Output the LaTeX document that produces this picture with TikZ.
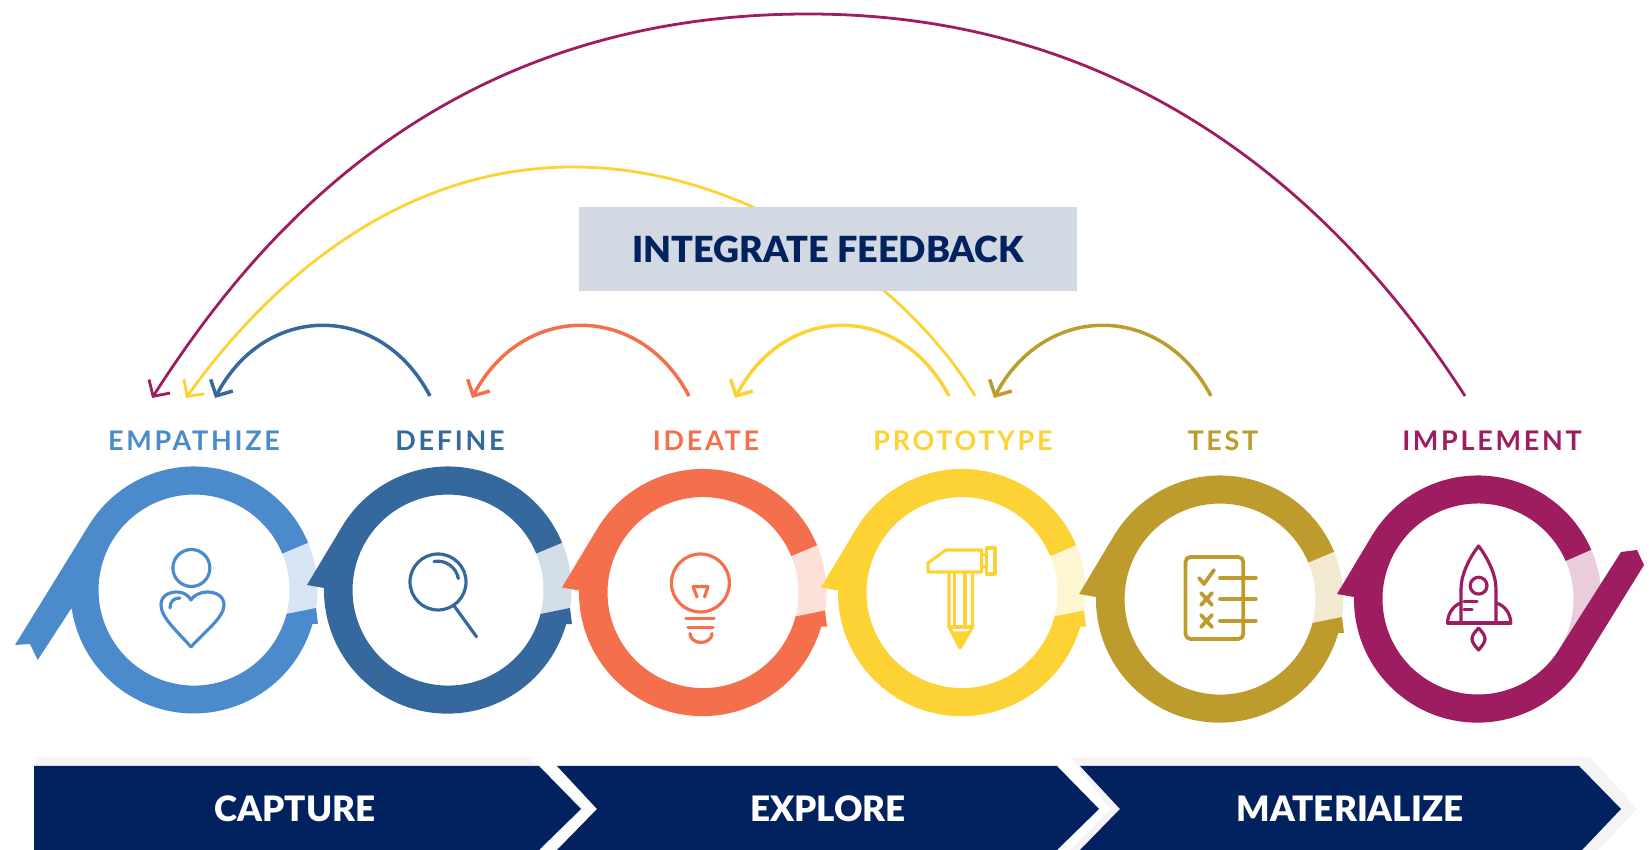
\documentclass[tikz,border=0pt]{standalone}
\usepackage{fontspec}
\setmainfont{Lato}
\newfontfamily\stagefont[LetterSpace=10]{Lato}
\newfontfamily\heavyfont{Lato Black}
\usetikzlibrary{arrows.meta,positioning}

\definecolor{empcol}{HTML}{4C8BCB}
\definecolor{defcol}{HTML}{35689D}
\definecolor{idecol}{HTML}{F4704C}
\definecolor{procol}{HTML}{FDD235}
\definecolor{tescol}{HTML}{BE9B2D}
\definecolor{impcol}{HTML}{9E1C60}
\definecolor{navy}{HTML}{02215F}
\definecolor{boxgray}{HTML}{D3D9E3}
\definecolor{shadecol}{HTML}{F6F3F6}

\tikzset{
  feedback/.style={->, >={Straight Barb[length=12pt,width=25pt]}, line width=2.8pt},
  shortback/.style={feedback, line width=3.5pt},
  stage/.style={font=\stagefont\bfseries\fontsize{27}{27}\selectfont},
  phase/.style={font=\heavyfont\fontsize{35}{35}\selectfont, text=white},
  icon/.style={line width=3.2pt, line cap=round, line join=round}
}

\begin{document}
\begin{tikzpicture}[x=1pt, y=1pt]
  \useasboundingbox (0,0) rectangle (1649,850);

  % Arrow ends
  \coordinate (impout) at (1465,454);
  \coordinate (top) at (808,836);
  \coordinate (empin1) at (152,452);
  \coordinate (proout2) at (975,454);
  \coordinate (mid) at (573,683);
  \coordinate (empin2) at (186,452);
  \coordinate (defout) at (430,454);
  \coordinate (empin3) at (215,452);
  \coordinate (ideout) at (689,454);
  \coordinate (defin) at (472,452);
  \coordinate (proout1) at (949,454);
  \coordinate (idein) at (735,452);
  \coordinate (tesout) at (1211,454);
  \coordinate (proin) at (994,452);

  % Feedback arcs
  \draw[feedback, impcol] (impout) .. controls (1369,603) and (1170,836) .. (top)
    .. controls (432,836) and (248,601) .. (empin1);
  \draw[feedback, procol] (proout2) .. controls (915,556) and (756,683) .. (mid)
    .. controls (396,683) and (266,564) .. (empin2);
  \draw[shortback, defcol] (defout) .. controls +(-50,95) and +(50,95) .. (empin3);
  \draw[shortback, idecol] (ideout) .. controls +(-50,95) and +(50,95) .. (defin);
  \draw[shortback, procol] (proout1) .. controls +(-50,95) and +(50,95) .. (idein);
  \draw[shortback, tescol] (tesout) .. controls +(-50,95) and +(50,95) .. (proin);

  \node[fill=boxgray, text=navy, minimum width=498pt, minimum height=84pt,
    font=\heavyfont\fontsize{36}{36}\selectfont] (integrate) at (828,601) {INTEGRATE FEEDBACK};

  % Stages
  \node[stage, text=empcol] (empathize) at (194,409) {EMPATHIZE};
  \node[stage, text=defcol] (define) at (450,409) {DEFINE};
  \node[stage, text=idecol] (ideate) at (706,409) {IDEATE};
  \node[stage, text=procol] (prototype) at (963,409) {PROTOTYPE};
  \node[stage, text=tescol] (test) at (1223,409) {TEST};
  \node[stage, text=impcol] (implement) at (1492,409) {IMPLEMENT};

  % Ring 1
  \begin{scope}[shift={(194,260)}]
    \fill[empcol!22] (-15:95.5) arc[start angle=-15,end angle=24,radius=95.5]
      -- (24:123.5) arc[start angle=24,end angle=-15,radius=123.5] -- cycle;
    \fill[empcol] (22.5:123.5) arc[start angle=22.5,end angle=148,radius=123.5]
      -- (-179,-55) -- (-164,-54) -- (-156.3,-70) -- (-122.4,-18)
      arc[start angle=188.4,end angle=344,radius=123.5]
      -- (124,-34) -- (122,-18) -- (92.5,-24)
      arc[start angle=345.5,end angle=22.5,radius=95.5] -- cycle;
  \end{scope}

  % Rings 2 to 5
  \foreach \cx/\cy/\col in {448/260/defcol, 703/257.5/idecol, 962/257.5/procol, 1220/251/tescol} {
    \begin{scope}[shift={(\cx,\cy)}]
      \fill[\col!22] (-15:95.5) arc[start angle=-15,end angle=24,radius=95.5]
        -- (24:123.5) arc[start angle=24,end angle=-15,radius=123.5] -- cycle;
      \fill[\col] (22.5:123.5) arc[start angle=22.5,end angle=149,radius=123.5]
        -- (-141,5) -- (-124,2)
        arc[start angle=179,end angle=344,radius=123.5]
        -- (124,-34) -- (122,-18) -- (92.5,-24)
        arc[start angle=345.5,end angle=22.5,radius=95.5] -- cycle;
    \end{scope}
  }

  % Ring 6
  \begin{scope}[shift={(1478,251)}]
    \fill[impcol!22] (-35:95.5) arc[start angle=-35,end angle=24,radius=95.5]
      -- (24:123.5) arc[start angle=24,end angle=-35,radius=123.5] -- cycle;
    \fill[impcol] (23.5:123.5) arc[start angle=23.5,end angle=149,radius=123.5]
      -- (-141,5) -- (-124,2)
      arc[start angle=179,end angle=329,radius=123.5]
      -- (166,34) -- (159,49) -- (143,47) -- (81,-50.6)
      arc[start angle=328,end angle=23.5,radius=95.5] -- cycle;
  \end{scope}

  % Icons
  \begin{scope}[shift={(194,260)}, icon, empcol]
    \draw (-2.6,22) circle (18.5);
    \draw (-3,-57) .. controls (-15,-43) and (-33,-28) .. (-33,-15)
      .. controls (-33,-5) and (-24,-2) .. (-17,-2)
      .. controls (-10,-2) and (-5,-6) .. (-3,-10)
      .. controls (-1,-6) and (6,-2) .. (13,-2)
      .. controls (22,-2) and (30,-6) .. (30,-15)
      .. controls (30,-28) and (9,-43) .. (-3,-57);
    \draw (-24,-18) .. controls (-24,-11) and (-20,-8) .. (-14,-8);
  \end{scope}
  \begin{scope}[shift={(448,260)}, icon, defcol]
    \draw (-10,8) circle (28);
    \draw (5.5,-15) -- (28.5,-46.7);
    \draw (-14,28.5) arc[start angle=100,end angle=10,radius=21];
  \end{scope}
  \begin{scope}[shift={(703,257.5)}, icon, idecol]
    \draw (-2.6,9.5) circle (29);
    \draw (-6,-4.5) -- (-10,6) -- (5,6) -- (1.6,-4.5);
    \draw (-17,-26) -- (11,-26);
    \draw (-15,-35) -- (10,-35);
    \draw (-13,-41) arc[start angle=180,end angle=360,x radius=11,y radius=9];
  \end{scope}
  \begin{scope}[shift={(962,257.5)}, icon, procol]
    \draw (-34,20.5) -- (-34,29.5) -- (-16,42.5) -- (19.5,42.5) -- (19.5,20.5) -- cycle;
    \draw (24.8,18.5) rectangle (33,44.5);
    \draw (19.5,38) -- (24.8,38);
    \draw (19.5,26) -- (24.8,26);
    \draw (-13,20.5) -- (-13,-34.5) -- (-2,-55.5) -- (10.5,-34.5) -- (10.5,20.5);
    \draw (-7.4,20.5) -- (-7.4,-34.5);
    \draw (3,20.5) -- (3,-34.5);
    \draw (-13,-34.5) -- (10.5,-34.5);
    \fill (-9,-39) -- (6,-39) -- (-2,-55) -- cycle;
  \end{scope}
  \begin{scope}[shift={(1220,251)}, icon, tescol, line width=3.8pt]
    \draw[rounded corners=5pt] (-34.5,-40) rectangle (23.3,42);
    \draw (0,21.3) -- (35.8,21.3);
    \draw (0,0) -- (35.8,0);
    \draw (0,-21.7) -- (35.8,-21.7);
    \draw (-21,21) -- (-16,15) -- (-6,29);
    \draw (-19,6) -- (-8,-6) (-19,-6) -- (-8,6);
    \draw (-19,-16) -- (-8,-28) (-19,-28) -- (-8,-16);
  \end{scope}
  \begin{scope}[shift={(1478,251)}, icon, impcol]
    \draw (-17,-24) -- (-17,10) .. controls (-17,25) and (-8,42) .. (0.6,53)
      .. controls (9,42) and (18,25) .. (18,10) -- (18,-24);
    \draw (0.6,13.3) circle (8.4);
    \draw (-30.4,-24) -- (32.7,-24);
    \draw (-30.4,-24) .. controls (-30.4,-14) and (-24,-6) .. (-17,-4);
    \draw (32.7,-24) .. controls (32.7,-14) and (26,-6) .. (18,-4);
    \draw (-14,-2.7) -- (-1,-2.7);
    \draw (-14,-10.3) -- (-6,-10.3);
    \draw (0.6,-29) .. controls (-3,-33) and (-6,-36) .. (-6,-40)
      .. controls (-6,-44) and (-2,-48) .. (0.6,-51)
      .. controls (3,-48) and (7,-44) .. (7,-40)
      .. controls (7,-36) and (4,-33) .. (0.6,-29);
  \end{scope}

  % Phases
  \fill[shadecol] (36,93) -- (1590,93) -- (1637,41) -- (1598,0) -- (36,0) -- cycle;
  \fill[white] (530,93) -- (1070,93) -- (1110,41) -- (1070,0) -- (530,0) -- (585,41) -- cycle;
  \fill[navy] (34,84) -- (539,84) -- (581,41) -- (539,0) -- (34,0) -- cycle;
  \fill[navy] (557,84) -- (1057,84) -- (1099,41) -- (1057,0) -- (557,0) -- (597,41) -- cycle;
  \fill[navy] (1080,84) -- (1579,84) -- (1621,41) -- (1582,0) -- (1080,0) -- (1120,41) -- cycle;
  \node[phase] (capture) at (295,41) {CAPTURE};
  \node[phase] (explore) at (828,41) {EXPLORE};
  \node[phase] (materialize) at (1350,41) {MATERIALIZE};
\end{tikzpicture}
\end{document}
